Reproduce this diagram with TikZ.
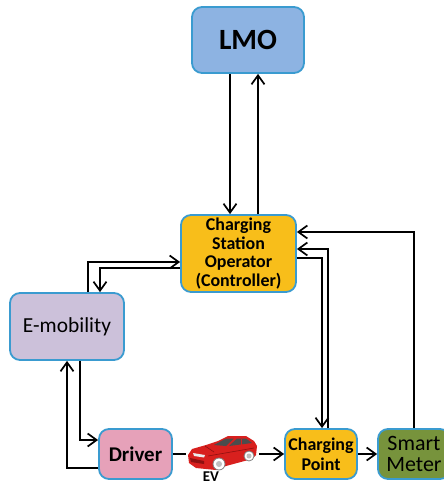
\documentclass[tikz,border=0pt]{standalone}
\usepackage{fontspec}
\setmainfont{Carlito}
\usetikzlibrary{arrows.meta}

\definecolor{boxline}{HTML}{3A9BD0}
\definecolor{lmoblue}{HTML}{8DB3E2}
\definecolor{csoyellow}{HTML}{F8BE1A}
\definecolor{emoblilac}{HTML}{CCC1DA}
\definecolor{driverpink}{HTML}{E6A1B9}
\definecolor{metergreen}{HTML}{77933C}
\definecolor{carred}{HTML}{D8201E}
\definecolor{cardark}{HTML}{8E1010}

\begin{document}
\begin{tikzpicture}[x=1bp, y=-1bp,
    box/.style={draw=boxline, line width=1.8bp, rounded corners=10bp, align=center, inner sep=2bp},
    flow/.style={line width=1.7bp, -{Straight Barb[length=9bp,width=13bp]}}]
        \clip (0,0) rectangle (444,486);

        % boxes
        \node[box, fill=lmoblue, minimum width=112bp, minimum height=66bp,
              font=\bfseries\fontsize{29.5}{31}\selectfont] (lmo) at (248,40) {LMO};
        \node[box, fill=csoyellow, minimum width=115bp, minimum height=77bp,
              font=\bfseries\fontsize{18}{18.5}\selectfont] (cso) at (238.5,253.5)
              {Charging\\Station\\Operator\\(Controller)};
        \node[box, fill=emoblilac, minimum width=114bp, minimum height=67bp,
              font=\fontsize{21.5}{24}\selectfont] (emob) at (67,326.5) {E-mobility};
        \node[box, fill=driverpink, minimum width=73bp, minimum height=50bp,
              font=\bfseries\fontsize{21}{22}\selectfont] (driver) at (135.5,454) {Driver};
        \node[box, fill=csoyellow, minimum width=72bp, minimum height=50bp,
              font=\bfseries\fontsize{18}{20}\selectfont] (cp) at (321,454) {Charging\\Point};
        \node[box, fill=metergreen, minimum width=72bp, minimum height=50bp,
              font=\fontsize{22}{21}\selectfont] (sm) at (414,454) {Smart\\Meter};

        % LMO <-> operator
        \coordinate (lmoin) at ([xshift=-8.5bp]cso.north);
        \coordinate (lmoout) at ([xshift=19.5bp]cso.north);
        \draw[flow] (lmoin |- lmo.south) -- (lmoin);
        \draw[flow] (lmoout) -- (lmoout |- lmo.south);

        % E-mobility <-> operator
        \draw[flow] ([xshift=21bp]emob.north) |- ([yshift=-8.5bp]cso.west);
        \draw[flow] ([yshift=-14.5bp]cso.west) -| ([xshift=33bp]emob.north);

        % meter and charging point <-> operator
        \draw[flow] (sm.north) |- ([yshift=21.5bp]cso.east);
        \draw[flow] ([xshift=7bp]cp.north) |- ([yshift=4.5bp]cso.east);
        \draw[flow] ([yshift=-4.5bp]cso.east) -| ([xshift=1bp]cp.north);

        % E-mobility <-> driver
        \draw[flow] ([xshift=13bp]emob.south) |- ([yshift=14bp]driver.west);
        \draw[flow] ([yshift=-14bp]driver.west) -| (emob.south);

        % bottom row
        \draw[flow] (driver.east) -- (cp.west);
        \draw[flow] (cp.east) -- (sm.west);

        % the EV
        \fill[white] (186,434) rectangle (259,471);
        \fill[carred] (188,455) -- (192,449) -- (206,445) -- (218,441) -- (228,436)
            -- (246,436) -- (254,441) -- (257,446) -- (256,455) -- (252,459)
            -- (226,466) -- (216,470) -- (196,468) -- (189,463) -- cycle;
        \fill[black!70] (214,445) -- (226,438.5) -- (234,438.5) -- (226,446) -- cycle;
        \fill[black!70] (229,446) -- (237,438.5) -- (246,438.5) -- (252,443) -- cycle;
        \draw[carred, line width=1bp] (241,438.5) -- (241,444.5);
        \fill[cardark] (190,458) -- (204,461) -- (204,464) -- (191,462) -- cycle;
        \fill[white!85!gray] (193,453) -- (205,455) -- (204,457.5) -- (194,456) -- cycle;
        \draw[cardark, line width=0.6bp] (208,456) -- (254,448);
        \draw[cardark, line width=0.6bp] (205,446) -- (214,452);
        \fill[white, draw=gray, line width=0.8bp] (219,464) circle (6);
        \fill[gray!50] (219,464) circle (3);
        \fill[white, draw=gray, line width=0.8bp] (249,456) circle (5);
        \fill[gray!50] (249,456) circle (2.5);
        \node[font=\bfseries\fontsize{15}{15}\selectfont, inner sep=1bp] (evlabel) at (211,477) {EV};
\end{tikzpicture}
\end{document}
